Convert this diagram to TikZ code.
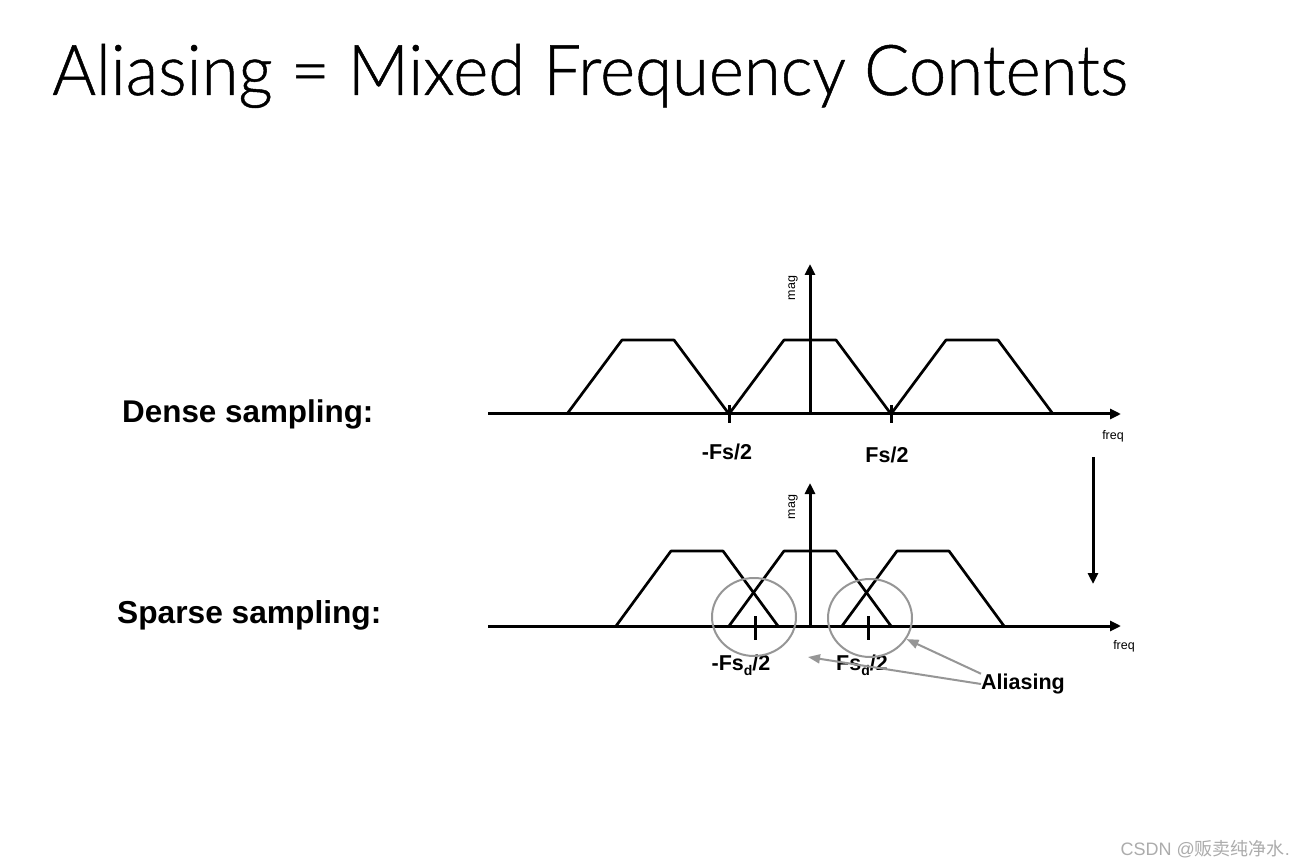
\documentclass[tikz,border=0pt]{standalone}
\usepackage{fontspec}
\setmainfont{Liberation Sans}
\newfontfamily\titlefont{Lato Light}[FakeBold=0.7]
\newfontfamily\cjkfont{Noto Sans CJK SC}
\usetikzlibrary{arrows.meta,positioning,shapes.geometric}
\definecolor{ringGray}{RGB}{150,150,150}
\definecolor{markGray}{RGB}{172,172,172}

\begin{document}
\begin{tikzpicture}[x=1pt,y=-1pt,
    axis/.style={line width=3pt, -{Triangle[length=11pt,width=10pt]}},
    band/.style={line width=2.7pt, line join=round},
    fsmark/.style={line width=3pt},
    lbl/.style={font=\bfseries\fontsize{21.5}{24}\selectfont, inner sep=0pt},
    tiny/.style={font=\fontsize{12.5}{14}\selectfont, inner sep=0pt},
    ring/.style={draw=ringGray, line width=2pt, ellipse, minimum width=84pt, minimum height=78pt, inner sep=0pt},
    pointer/.style={draw=ringGray, line width=2pt, -{Triangle[length=12pt,width=9pt]}}]
    \useasboundingbox (0,0) rectangle (1304,866);
    \fill[white] (0,0) rectangle (1304,866);

    % title
    \node[anchor=base west, inner sep=0pt] (title) at (52,95)
        {\resizebox{1075pt}{51pt}{\titlefont Aliasing = Mixed Frequency Contents}};

    % row labels
    \node[anchor=base west, inner sep=0pt, font=\bfseries\fontsize{31.4}{36}\selectfont] (dense) at (122,422) {Dense sampling:};
    \node[anchor=base west, inner sep=0pt, font=\bfseries\fontsize{31.7}{36}\selectfont] (sparse) at (117,623) {Sparse sampling:};

    % dense spectrum: axes
    \draw[axis] (488,414) -- (1121,414);
    \draw[axis] (810,414) -- (810,264);
    \node[tiny, anchor=south east] (freqA) at (1124,442) {freq};
    \node[tiny, rotate=90] (magA) at (793,288) {mag};

    % dense spectrum: copies
    \foreach \c in {648,810,972}
        \draw[band] (\c-81,414) -- (\c-26,340) -- (\c+26,340) -- (\c+81,414);

    % dense spectrum: fold marks
    \draw[fsmark] (729,405) -- (729,423);
    \draw[fsmark] (891,405) -- (891,423);
    \node[lbl] (fsA) at (727,452) {-Fs/2};
    \node[lbl] (fsB) at (887,455) {Fs/2};

    % downsampling arrow
    \draw[axis] (1093,457) -- (1093,584);

    % sparse spectrum: axes
    \draw[axis] (488,626) -- (1121,626);
    \draw[axis] (810,626) -- (810,483);
    \node[tiny, anchor=south east] (freqB) at (1135,652) {freq};
    \node[tiny, rotate=90] (magB) at (793,507) {mag};

    % sparse spectrum: copies
    \foreach \c in {697,810,923}
        \draw[band] (\c-81,626) -- (\c-26,551) -- (\c+26,551) -- (\c+81,626);

    % sparse spectrum: fold marks
    \draw[fsmark] (755,616) -- (755,640);
    \draw[fsmark] (868,616) -- (868,640);
    \node[lbl] (fsdA) at (741,665) {-Fs\raisebox{-0.45ex}{\fontsize{14}{16}\selectfont d}/2};
    \node[lbl] (fsdB) at (862,665) {Fs\raisebox{-0.45ex}{\fontsize{14}{16}\selectfont d}/2};

    % overlap rings
    \node[ring] (ringA) at (754,617) {};
    \node[ring] (ringB) at (870,618) {};

    % aliasing callout
    \node[lbl] (alias) at (1023,684) {Aliasing};
    \coordinate (gap) at (808,657);
    \draw[pointer] (alias.north west) -- (ringB.-30);
    \draw[pointer] (alias.west) -- (gap);

    % watermark
    \node[anchor=base east, inner sep=0pt, text=markGray, font=\fontsize{18}{20}\selectfont] (mark) at (1290,855)
        {CSDN @{\cjkfont 贩卖纯净水}.};
\end{tikzpicture}
\end{document}
